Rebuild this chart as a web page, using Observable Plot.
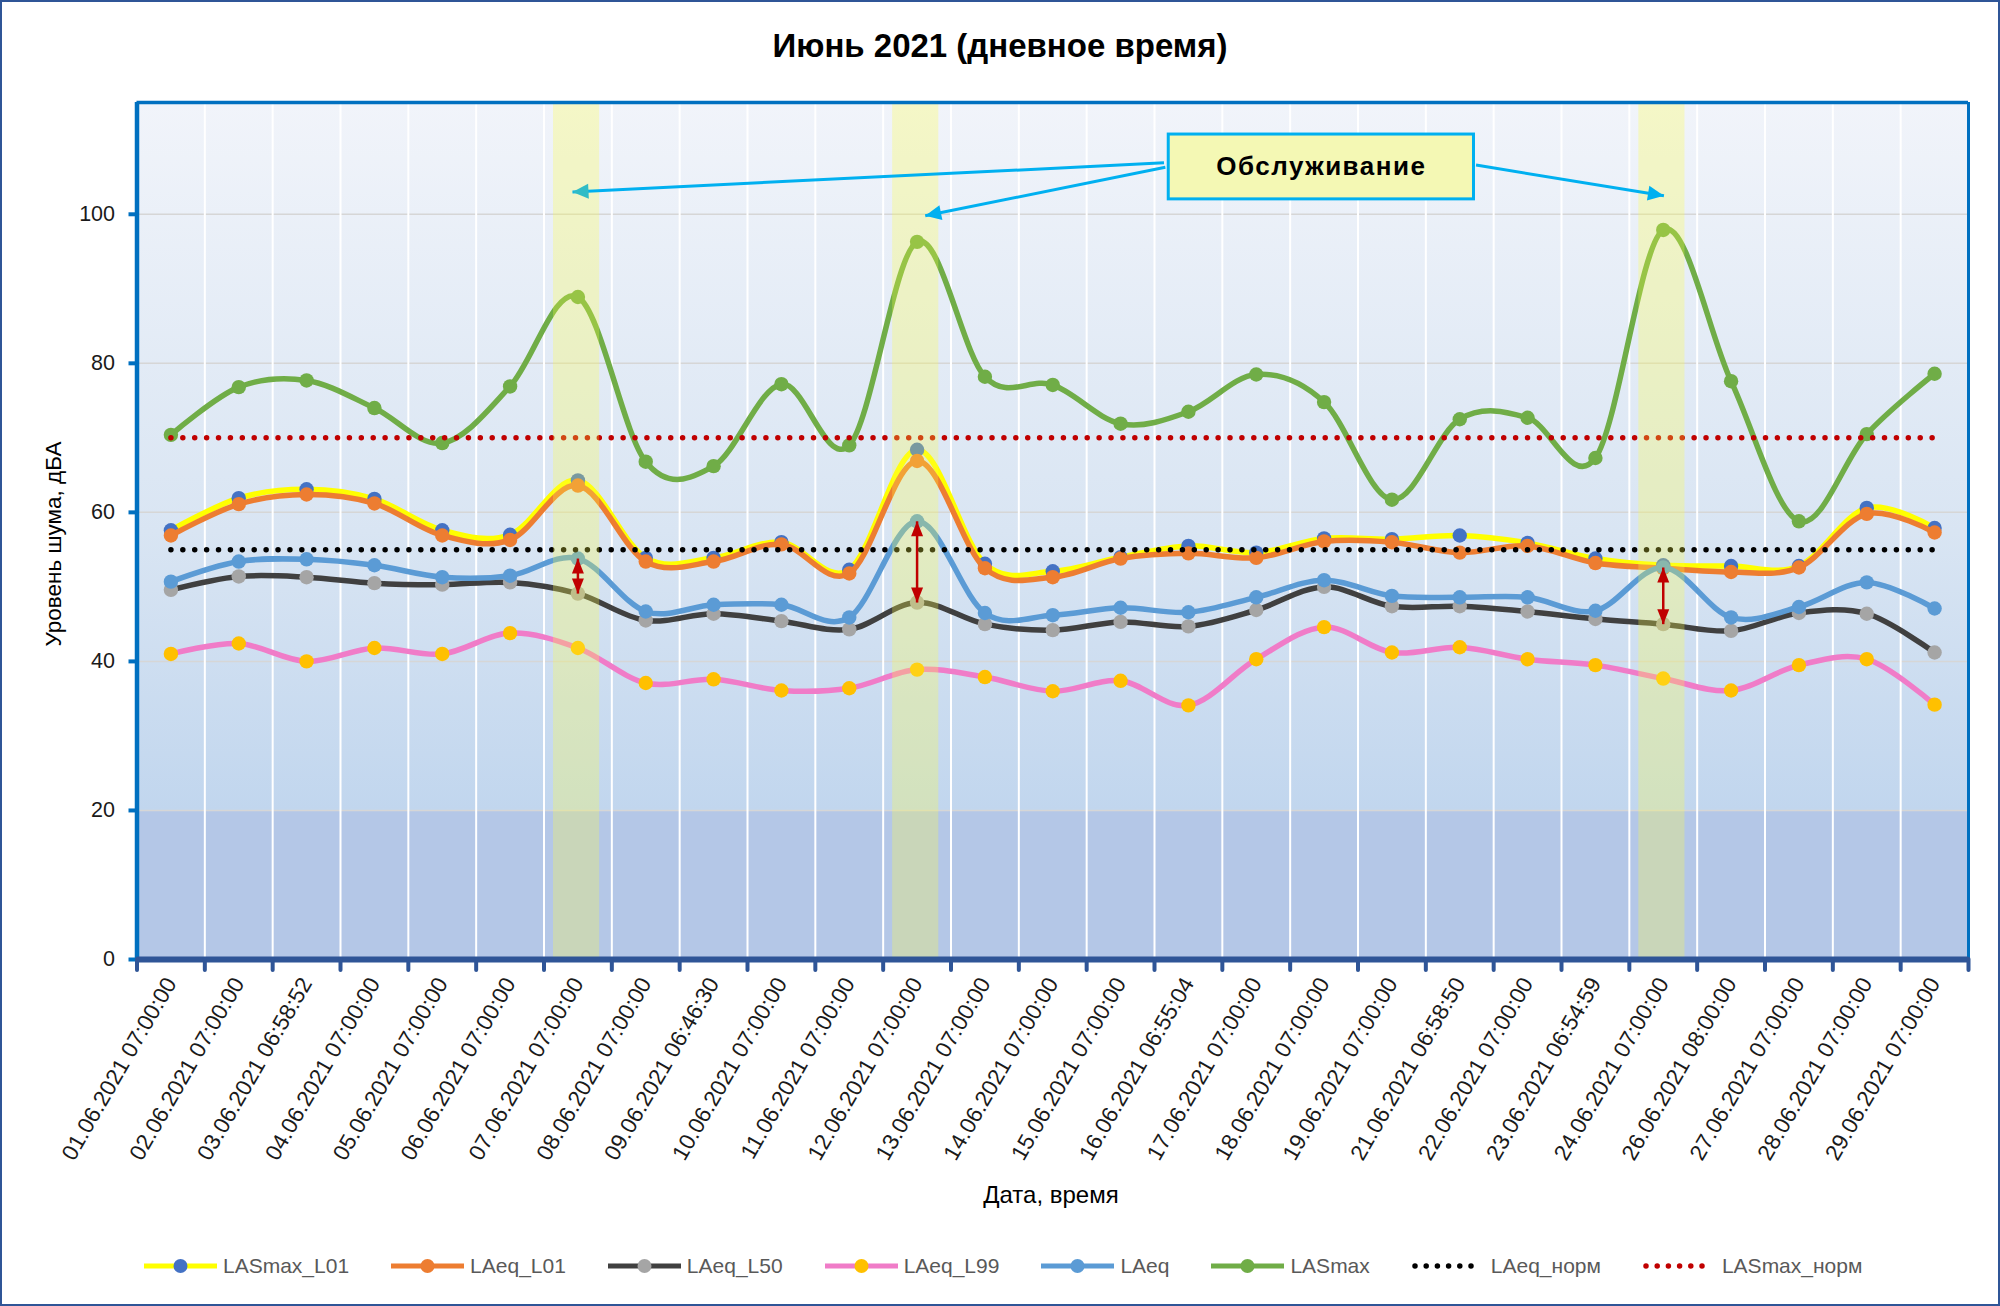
<!DOCTYPE html>
<html>
<head>
<meta charset="utf-8">
<script src="https://cdn.jsdelivr.net/npm/d3@7"></script>
<script src="https://cdn.jsdelivr.net/npm/@observablehq/plot@0.6"></script>
<style>
  html, body { margin: 0; padding: 0; background: #fff; }
  #chart { position: relative; width: 2000px; height: 1306px; background: #fff; overflow: hidden;
           font-family: "Liberation Sans", Arial, sans-serif; }
  #chart > svg { position: absolute; left: 0; top: 0; }
  #border { position: absolute; left: 0; top: 0; width: 2000px; height: 1306px; box-sizing: border-box;
            border: 2px solid #2f5597; pointer-events: none; }
  #title { position: absolute; left: 0; top: 29px; width: 2000px; text-align: center;
           font-size: 33px; line-height: 33px; font-weight: bold; color: #000; }
  #ylabel { position: absolute; left: 54px; top: 544px; transform: translate(-50%, -50%) rotate(-90deg);
            font-size: 22.5px; white-space: nowrap; color: #000; }
  #xlabel { position: absolute; left: 1051px; top: 1195px; transform: translate(-50%, -50%);
            font-size: 24px; white-space: nowrap; color: #000; }
  #legend { position: absolute; left: 144px; top: 1254px; height: 24px; display: flex; align-items: center; gap: 42px; }
  .item { display: flex; align-items: center; font-size: 21px; color: #595959; white-space: nowrap; }
  .item svg { margin-right: 6px; }
</style>
</head>
<body>
<div id="chart">
  <div id="title">Июнь 2021 (дневное время)</div>
  <div id="ylabel">Уровень шума, дБА</div>
  <div id="xlabel">Дата, время</div>
  <div id="legend"></div>
  <div id="border"></div>
</div>
<script>
// ---------- data ----------
const labels = ["01.06.2021 07:00:00","02.06.2021 07:00:00","03.06.2021 06:58:52","04.06.2021 07:00:00",
  "05.06.2021 07:00:00","06.06.2021 07:00:00","07.06.2021 07:00:00","08.06.2021 07:00:00",
  "09.06.2021 06:46:30","10.06.2021 07:00:00","11.06.2021 07:00:00","12.06.2021 07:00:00",
  "13.06.2021 07:00:00","14.06.2021 07:00:00","15.06.2021 07:00:00","16.06.2021 06:55:04",
  "17.06.2021 07:00:00","18.06.2021 07:00:00","19.06.2021 07:00:00","21.06.2021 06:58:50",
  "22.06.2021 07:00:00","23.06.2021 06:54:59","24.06.2021 07:00:00","26.06.2021 08:00:00",
  "27.06.2021 07:00:00","28.06.2021 07:00:00","29.06.2021 07:00:00"];

const LASmax_L01 = [57.6,61.9,63.1,61.8,57.6,57.0,64.3,53.9,53.9,56.0,52.3,68.4,53.1,52.1,54.0,55.5,54.6,56.5,56.4,56.9,55.9,53.8,52.9,52.8,52.8,60.6,57.9];
const LAeq_L01   = [56.9,61.1,62.4,61.2,56.9,56.3,63.6,53.4,53.4,55.7,51.8,66.9,52.5,51.3,53.8,54.5,53.9,56.1,56.0,54.6,55.5,53.2,52.5,52.0,52.6,59.8,57.3];
const LAeq_L50   = [49.6,51.4,51.3,50.5,50.3,50.6,49.1,45.5,46.4,45.4,44.3,47.9,45.0,44.2,45.3,44.7,46.9,50.0,47.4,47.4,46.7,45.7,45.0,44.1,46.5,46.4,41.2];
const LAeq_L99   = [41.0,42.4,40.0,41.8,41.0,43.8,41.8,37.1,37.6,36.1,36.4,38.9,37.9,36.0,37.4,34.1,40.3,44.6,41.2,41.9,40.3,39.5,37.7,36.1,39.5,40.3,34.2];
const LAeq       = [50.7,53.4,53.7,52.9,51.3,51.5,53.8,46.7,47.6,47.6,45.9,58.8,46.5,46.2,47.2,46.6,48.6,50.9,48.8,48.6,48.6,46.8,52.6,45.9,47.3,50.6,47.1];
const LASmax     = [70.4,76.8,77.7,74.0,69.3,76.9,88.9,66.8,66.2,77.2,69.0,96.3,78.2,77.1,71.9,73.5,78.5,74.8,61.7,72.5,72.7,67.3,97.9,77.6,58.8,70.5,78.6];
const LAeq_norm   = labels.map(() => 55);
const LASmax_norm = labels.map(() => 70);

const yTicks = [0, 20, 40, 60, 80, 100];
const maintenance = [6, 11, 22];             // indices of "Обслуживание" days
const calloutText = "Обслуживание";
// callout geometry in data units (x = category index, y = dB)
const calloutBox = {x1: 14.71, x2: 19.21, y1: 102.0, y2: 110.7};
const calloutArrows = [
  {x1: 14.64, y1: 106.9, x2: 5.92, y2: 103.0},
  {x1: 14.66, y1: 106.3, x2: 11.12, y2: 99.8},
  {x1: 19.24, y1: 106.6, x2: 22.01, y2: 102.5}
];

const series = [
  {name: "LASmax_L01", values: LASmax_L01, line: "#ffff00", marker: "#4472c4"},
  {name: "LAeq_L01",   values: LAeq_L01,   line: "#ed7d31", marker: "#ed7d31"},
  {name: "LAeq_L50",   values: LAeq_L50,   line: "#404040", marker: "#a5a5a5"},
  {name: "LAeq_L99",   values: LAeq_L99,   line: "#f07cc8", marker: "#ffc000"},
  {name: "LAeq",       values: LAeq,       line: "#5b9bd5", marker: "#5b9bd5"},
  {name: "LASmax",     values: LASmax,     line: "#70ad47", marker: "#70ad47"}
];
const norms = [
  {name: "LAeq_норм",   values: LAeq_norm,   color: "#000000"},
  {name: "LASmax_норм", values: LASmax_norm, color: "#c00000"}
];

// ---------- plot ----------
const n = labels.length;
const idx = d3.range(n);
const boundaries = d3.range(n + 1).map(i => i - 0.5);
const yMax = 115;

const marks = [
  Plot.frame({fill: "url(#bgGrad)", stroke: "none"}),
  Plot.ruleY(yTicks.filter(v => v > 0), {stroke: "#d6d6d6", strokeWidth: 1.5}),
  Plot.ruleX(boundaries, {y1: 0, y2: yMax, stroke: "#ffffff", strokeWidth: 2})
];
for (const s of series) {
  marks.push(Plot.line(idx, {x: i => i, y: i => s.values[i], stroke: s.line, strokeWidth: 5.5,
                             curve: "cardinal", tension: 0}));
  marks.push(Plot.dot(idx, {x: i => i, y: i => s.values[i], r: 7.2, fill: s.marker, stroke: "none"}));
}
for (const s of norms) {
  marks.push(Plot.line(idx, {x: i => i, y: i => s.values[i], stroke: s.color, strokeWidth: 5.5,
                             strokeDasharray: "0 11.9", strokeLinecap: "round"}));
}
marks.push(
  Plot.rect(maintenance, {x1: i => i - 0.36, x2: i => i + 0.32, y1: 0, y2: yMax,
                          fill: "#ffff44", fillOpacity: 0.28}),
  Plot.link(maintenance, {x1: i => i, x2: i => i, y1: i => LAeq[i], y2: i => LAeq_L50[i],
                          stroke: "#c00000", strokeWidth: 2.5, ariaLabel: () => "gap-arrow"}),
  Plot.link(calloutArrows, {x1: "x1", y1: "y1", x2: "x2", y2: "y2",
                            stroke: "#00b0f0", strokeWidth: 3, ariaLabel: () => "callout-arrow"}),
  Plot.rect([calloutBox], {x1: "x1", x2: "x2", y1: "y1", y2: "y2",
                           fill: "#f4f8b4", stroke: "#00b0f0", strokeWidth: 3}),
  Plot.text([calloutText], {x: (calloutBox.x1 + calloutBox.x2) / 2, y: (calloutBox.y1 + calloutBox.y2) / 2,
                            text: d => d, fontSize: 26, fontWeight: "bold", fill: "#000",
                            ariaLabel: () => "callout-text"}),
  // frame lines
  Plot.ruleX([-0.5], {y1: 0, y2: yMax, stroke: "#0070c0", strokeWidth: 4.5}),
  Plot.ruleX([n - 0.5], {y1: 0, y2: yMax, stroke: "#0070c0", strokeWidth: 3}),
  Plot.ruleY([yMax], {stroke: "#0070c0", strokeWidth: 3.5}),
  Plot.ruleY([0], {stroke: "#2f5597", strokeWidth: 6}),
  // axes
  Plot.axisY({ticks: yTicks, tickSize: 8, tickPadding: 14, stroke: "#0070c0", strokeWidth: 4,
              fontSize: 21.5, fill: "#1a1a1a", label: null}),
  Plot.axisX({ticks: boundaries, tickSize: 11, tickFormat: () => "", stroke: "#2f5597",
              strokeWidth: 4, strokeLinecap: "round", label: null}),
  Plot.axisX({ticks: idx, tickSize: 0, tickPadding: 20, tickRotate: -60, tickFormat: i => labels[i],
              fontSize: 22.5, fill: "#1a1a1a", label: null})
);

const plot = Plot.plot({
  width: 2000,
  height: 1306,
  marginLeft: 136.5,
  marginRight: 32,
  marginTop: 102,
  marginBottom: 347,
  style: {fontFamily: '"Liberation Sans", Arial, sans-serif', background: "transparent", overflow: "visible"},
  x: {type: "linear", domain: [-0.5, n - 0.5]},
  y: {type: "linear", domain: [0, yMax]},
  marks
});

// defs: gradient background and filled arrow heads
const defs = document.createElementNS("http://www.w3.org/2000/svg", "defs");
defs.innerHTML = `
  <linearGradient id="bgGrad" x1="0" y1="0" x2="0" y2="1">
    <stop offset="0" stop-color="#f1f4fa"/>
    <stop offset="0.5" stop-color="#d9e5f3"/>
    <stop offset="0.826" stop-color="#c1d6ee"/>
    <stop offset="0.826" stop-color="#b4c7e7"/>
    <stop offset="1" stop-color="#b4c7e7"/>
  </linearGradient>
  <marker id="triRed" viewBox="-16 -8 17 16" refX="0" refY="0" markerWidth="17" markerHeight="16"
          markerUnits="userSpaceOnUse" orient="auto-start-reverse">
    <path d="M0,0L-15,-6L-15,6Z" fill="#c00000"/>
  </marker>
  <marker id="triCyan" viewBox="-18 -9 19 18" refX="0" refY="0" markerWidth="19" markerHeight="18"
          markerUnits="userSpaceOnUse" orient="auto">
    <path d="M0,0L-16,-7.5L-16,7.5Z" fill="#00b0f0"/>
  </marker>
  <marker id="triTeal" viewBox="-18 -9 19 18" refX="0" refY="0" markerWidth="19" markerHeight="18"
          markerUnits="userSpaceOnUse" orient="auto">
    <path d="M0,0L-16,-7.5L-16,7.5Z" fill="#30bcc6"/>
  </marker>`;
plot.insertBefore(defs, plot.firstChild);
plot.querySelectorAll('[aria-label="gap-arrow"]').forEach(p => {
  p.setAttribute("marker-start", "url(#triRed)");
  p.setAttribute("marker-end", "url(#triRed)");
});
plot.querySelectorAll('[aria-label="callout-arrow"]').forEach((p, k) => {
  p.setAttribute("marker-end", k === 0 ? "url(#triTeal)" : "url(#triCyan)");
});
plot.querySelectorAll('[aria-label="callout-text"]').forEach(t => t.style.letterSpacing = "1.5px");

document.getElementById("chart").insertBefore(plot, document.getElementById("border"));

// ---------- legend ----------
const legend = document.getElementById("legend");
const legendItems = [
  ...series.map(s => ({name: s.name, line: s.line, marker: s.marker, dotted: false})),
  ...norms.map(s => ({name: s.name, line: s.color, marker: null, dotted: true}))
];
for (const it of legendItems) {
  const div = document.createElement("div");
  div.className = "item";
  const sw = it.dotted
    ? `<svg width="73" height="20"><line x1="3" y1="10" x2="70" y2="10" stroke="${it.line}" stroke-width="5.5" stroke-dasharray="0 11.2" stroke-linecap="round"/></svg>`
    : `<svg width="73" height="20"><line x1="0" y1="10" x2="73" y2="10" stroke="${it.line}" stroke-width="5"/><circle cx="36.5" cy="10" r="7" fill="${it.marker}"/></svg>`;
  div.innerHTML = sw + `<span>${it.name}</span>`;
  legend.appendChild(div);
}
</script>
</body>
</html>
